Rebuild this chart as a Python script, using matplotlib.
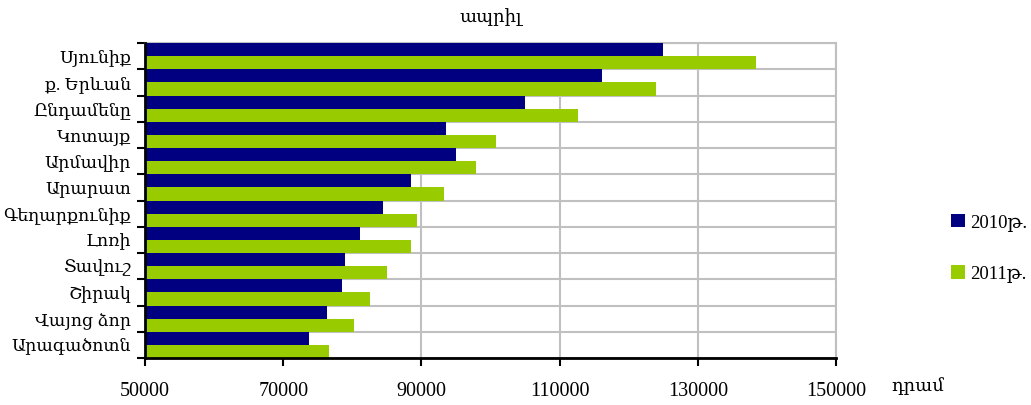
import matplotlib

matplotlib.use("Agg")
import matplotlib.pyplot as plt
import numpy as np

# regions, top to bottom
regions = [
    "Սյունիք",
    "ք. Երևան",
    "Ընդամենը",
    "Կոտայք",
    "Արմավիր",
    "Արարատ",
    "Գեղարքունիք",
    "Լոռի",
    "Տավուշ",
    "Շիրակ",
    "Վայոց ձոր",
    "Արագածոտն",
]
vals_2010 = [125000, 116100, 105000, 93600, 95000, 88500, 84400, 81100, 78900, 78500, 76300, 73700]
vals_2011 = [138400, 124000, 112700, 100800, 97900, 93300, 89300, 88450, 85000, 82600, 80300, 76600]
series_labels = ["2010թ.", "2011թ."]
x_ticks = [50000, 70000, 90000, 110000, 130000, 150000]

plt.rcParams["font.family"] = ["Liberation Serif", "DejaVu Serif", "DejaVu Sans"]

fig = plt.figure(figsize=(10.31, 4.05), dpi=100)
ax = fig.add_axes([145 / 1031, 1 - 358 / 405, (836 - 145) / 1031, (358 - 43) / 405])

n = len(regions)
y = np.arange(n)
h = 0.5
ax.barh(y - h / 2, vals_2010, height=h, left=0, color="#000080", label=series_labels[0], zorder=3)
ax.barh(y + h / 2, vals_2011, height=h, left=0, color="#99cc00", label=series_labels[1], zorder=3)

ax.set_xlim(50000, 150000)
ax.set_ylim(n - 0.5, -0.5)

ax.set_xticks(x_ticks)
ax.set_xticklabels([str(v) for v in x_ticks], fontsize=14.5)
ax.set_yticks(y)
ax.set_yticklabels(regions, fontsize=12.5)
ax.set_yticks(np.arange(-0.5, n, 1.0), minor=True)
ax.tick_params(axis="y", which="major", length=0, pad=10)
ax.tick_params(axis="y", which="minor", length=6, width=1.5, direction="out")
ax.tick_params(axis="x", length=6, width=1.5, direction="out", pad=11)

ax.grid(True, axis="x", color="#c0c0c0", lw=1.5, zorder=0)
ax.grid(True, axis="y", which="minor", color="#c0c0c0", lw=1.5, zorder=0)
for side in ("top", "right"):
    ax.spines[side].set_color("#c0c0c0")
    ax.spines[side].set_linewidth(1.5)
for side in ("left", "bottom"):
    ax.spines[side].set_color("black")
    ax.spines[side].set_linewidth(2)
    ax.spines[side].set_zorder(4)

ax.set_title("ապրիլ", fontsize=13, pad=15)
fig.text(918 / 1031, 1 - 386 / 405, "դրամ", fontsize=13, ha="center", va="center")

fig.legend(
    loc="center left",
    bbox_to_anchor=(943 / 1031, 1 - 248 / 405),
    frameon=False,
    fontsize=13.5,
    handlelength=0.75,
    handleheight=0.75,
    handletextpad=0.3,
    labelspacing=1.8,
    borderaxespad=0,
)

fig.savefig("out.png", dpi=100)
